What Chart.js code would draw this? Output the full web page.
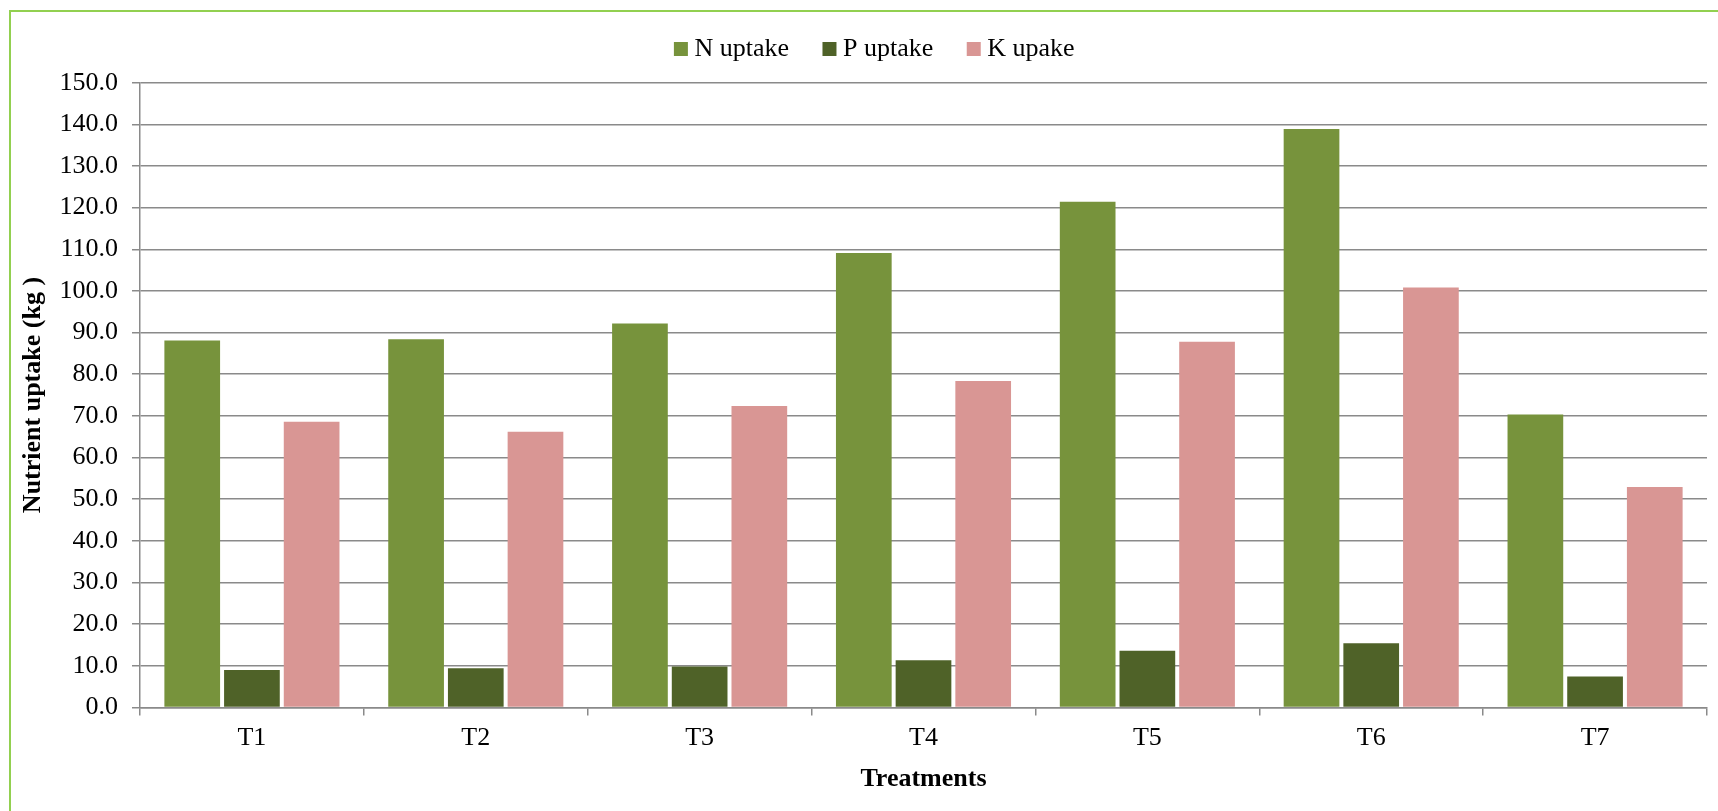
<!DOCTYPE html>
<html><head><meta charset="utf-8">
<script src="https://cdn.jsdelivr.net/npm/chart.js@4"></script>
<style>
html,body{margin:0;padding:0;background:#fff;}
#wrap{position:relative;width:1718px;height:811px;overflow:hidden;}
#frame{position:absolute;left:9px;top:10px;width:1800px;height:900px;border-left:2px solid #92D050;border-top:2px solid #92D050;}
canvas{position:absolute;left:0;top:0;}
</style></head><body>
<div id="wrap"><div id="frame"></div><canvas id="c" width="1718" height="811"></canvas></div>
<script>
const categories = ['T1', 'T2', 'T3', 'T4', 'T5', 'T6', 'T7'];
const nUptake = [88.1, 88.4, 92.2, 109.1, 121.4, 138.9, 70.3];
const pUptake = [9.0, 9.4, 9.8, 11.3, 13.6, 15.4, 7.4];
const kUptake = [68.6, 66.2, 72.4, 78.4, 87.8, 100.8, 52.9];
const seriesNames = ['N uptake', 'P uptake', 'K upake'];
const seriesColors = ['#77933C', '#4F6228', '#D99694'];
const yMin = 0, yMax = 150, yStep = 10;
const xTitle = 'Treatments';
const yTitle = 'Nutrient uptake (kg )';

const FONT = '"Liberation Serif", "Times New Roman", serif';
const GRID = '#8a8a8a';

const legendTweak = {
  id: 'legendTweak',
  beforeLayout(chart) {
    const lg = chart.legend;
    if (lg && !lg._patched) {
      const orig = lg.fit;
      lg.fit = function () { orig.call(this); this.height += 6.7; };
      lg._patched = true;
    }
  },
  afterLayout(chart) {
    const lg = chart.legend;
    if (!lg) return;
    lg.top -= 4; lg.bottom -= 4;
    lg.left += 17; lg.right += 17;
  }
};

new Chart(document.getElementById('c'), {
  type: 'bar',
  data: {
    labels: categories,
    datasets: [
      { label: seriesNames[0], data: nUptake, backgroundColor: seriesColors[0] },
      { label: seriesNames[1], data: pUptake, backgroundColor: seriesColors[1] },
      { label: seriesNames[2], data: kUptake, backgroundColor: seriesColors[2] }
    ]
  },
  options: {
    responsive: false,
    animation: false,
    devicePixelRatio: 1,
    layout: { padding: { top: 0, left: 14, right: 11, bottom: 13 } },
    datasets: { bar: { categoryPercentage: 0.8, barPercentage: 0.933 } },
    plugins: {
      tooltip: { enabled: false },
      legend: {
        position: 'top',
        labels: {
          usePointStyle: true,
          pointStyle: 'rect',
          boxWidth: 1,
          boxHeight: 14,
          padding: 40,
          color: '#000',
          font: { family: FONT, size: 26 }
        }
      }
    },
    scales: {
      x: {
        grid: { display: true, drawOnChartArea: false, drawTicks: true, tickLength: 8, color: GRID, lineWidth: 1.5, offset: true },
        border: { display: true, color: GRID, width: 1.5 },
        ticks: { color: '#000', font: { family: FONT, size: 26 }, padding: 7.2, maxRotation: 0 },
        title: { display: true, text: xTitle, color: '#000', font: { family: FONT, size: 26, weight: 'bold' }, padding: { top: 4, bottom: 2.8 } },
        afterFit(scale) { scale.height = 90.6; }
      },
      y: {
        min: yMin, max: yMax,
        grid: { color: GRID, lineWidth: 1.5, tickLength: 8 },
        border: { display: true, color: GRID, width: 1.5 },
        ticks: { stepSize: yStep, color: '#000', font: { family: FONT, size: 26 }, padding: 14,
                 callback: v => Number(v).toFixed(1) },
        title: { display: true, text: yTitle, color: '#000', font: { family: FONT, size: 26, weight: 'bold' }, padding: { top: 4, bottom: 4 } },
        afterFit(scale) { scale.width = 126; }
      }
    }
  },
  plugins: [legendTweak]
});
</script>
</body></html>
